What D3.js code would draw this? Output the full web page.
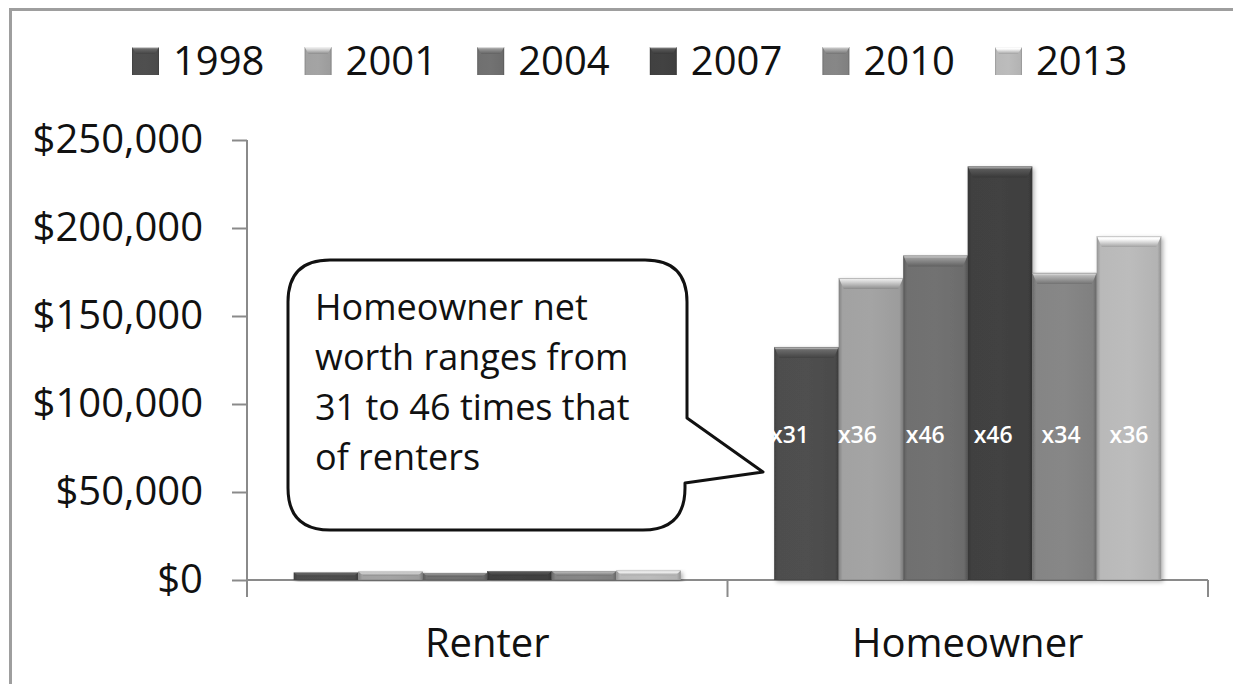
<!DOCTYPE html>
<html>
<head>
<meta charset="utf-8">
<script src="https://cdn.jsdelivr.net/npm/d3@7"></script>
<style>
  html, body { margin: 0; padding: 0; background: #fff; }
  svg { display: block; font-family: "Open Sans", sans-serif; }
</style>
</head>
<body>
<svg id="chart" width="1233" height="684"></svg>
<script>
// ---- data ----
const categories = ["Renter", "Homeowner"];
const years = ["1998", "2001", "2004", "2007", "2010", "2013"];
const renterValues = [4300, 4800, 4000, 5100, 5100, 5400];
const homeownerValues = [132400, 171600, 184400, 235000, 174500, 195400];
const ratioLabels = ["x31", "x36", "x46", "x46", "x34", "x36"];
const yTickValues = [0, 50000, 100000, 150000, 200000, 250000];
const yearColors = ["#4b4b4b", "#9c9c9c", "#6c6c6c", "#3f3f3f", "#808080", "#b3b3b3"];
const calloutLines = ["Homeowner net", "worth ranges from", "31 to 46 times that", "of renters"];

const seriesByCategory = { "Renter": renterValues, "Homeowner": homeownerValues };

const svg = d3.select("#chart");
const W = 1233, H = 684;

// frame
svg.append("path")
  .attr("d", `M10.5,${H + 5} L10.5,9.5 L${W + 5},9.5`)
  .attr("fill", "none").attr("stroke", "#9e9e9e").attr("stroke-width", 3);

// scales
const plot = { left: 247, right: 1208, top: 140, bottom: 580 };
const pInner = 0.1946;
const x0 = d3.scaleBand().domain(categories).range([plot.left, plot.right])
  .paddingInner(pInner).paddingOuter(pInner / 2);
const x1 = d3.scaleBand().domain(years).range([0, x0.bandwidth()]).padding(0);
const y = d3.scaleLinear().domain([0, 250000]).range([plot.bottom, plot.top]);

// defs: gradients
const defs = svg.append("defs");
yearColors.forEach((c, i) => {
  const base = d3.color(c);
  const g = defs.append("linearGradient").attr("id", "hg" + i)
    .attr("x1", "0%").attr("x2", "100%").attr("y1", "0%").attr("y2", "0%");
  g.append("stop").attr("offset", "0%").attr("stop-color", base.darker(0.5));
  g.append("stop").attr("offset", "6%").attr("stop-color", base.brighter(0.1));
  g.append("stop").attr("offset", "50%").attr("stop-color", base.brighter(0.14));
  g.append("stop").attr("offset", "94%").attr("stop-color", base);
  g.append("stop").attr("offset", "100%").attr("stop-color", base.darker(0.6));
  const t = defs.append("linearGradient").attr("id", "tg" + i)
    .attr("x1", "0%").attr("x2", "0%").attr("y1", "0%").attr("y2", "100%");
  t.append("stop").attr("offset", "0%").attr("stop-color", "#f4f4f4");
  t.append("stop").attr("offset", "25%").attr("stop-color", base.brighter(1.0));
  t.append("stop").attr("offset", "100%").attr("stop-color", base.darker(0.3));
});
const f = defs.append("filter").attr("id", "sh").attr("x", "-10%").attr("y", "-10%")
  .attr("width", "130%").attr("height", "130%");
f.append("feDropShadow").attr("dx", 2).attr("dy", 2).attr("stdDeviation", 2)
  .attr("flood-color", "#000").attr("flood-opacity", 0.3);

// axes
const axisColor = "#8a8a8a";
const yAxis = svg.append("g").attr("transform", `translate(${plot.left},0)`)
  .call(d3.axisLeft(y).tickValues(yTickValues)
    .tickFormat(d => "$" + d3.format(",")(d)).tickSize(15).tickPadding(29));
yAxis.select(".domain").attr("stroke", axisColor).attr("stroke-width", 2)
  .attr("d", `M0,${plot.top}V${plot.bottom}`);
yAxis.selectAll(".tick line").attr("stroke", axisColor).attr("stroke-width", 2);
yAxis.selectAll(".tick text").attr("font-size", 40).attr("fill", "#111")
  .attr("font-family", "Open Sans");

const xg = svg.append("g").attr("transform", `translate(0,${plot.bottom})`);
xg.append("line").attr("x1", plot.left).attr("x2", plot.right)
  .attr("stroke", axisColor).attr("stroke-width", 2);
const boundaries = categories.map(c => x0(c) - x0.step() * pInner / 2).concat([plot.right]);
xg.selectAll("line.b").data(boundaries).join("line").attr("class", "b")
  .attr("x1", d => d).attr("x2", d => d).attr("y1", 0).attr("y2", 17)
  .attr("stroke", axisColor).attr("stroke-width", 2);
svg.append("g").selectAll("text").data(categories).join("text")
  .attr("x", d => x0(d) + x0.bandwidth() / 2).attr("y", 657)
  .attr("text-anchor", "middle").attr("font-size", 40).attr("fill", "#111")
  .text(d => d);

// bars
const barData = [];
categories.forEach(cat => {
  seriesByCategory[cat].forEach((v, i) => barData.push({ cat, year: years[i], i, v }));
});
const bars = svg.append("g").selectAll("g").data(barData).join("g")
  .attr("transform", d => `translate(${x0(d.cat) + x1(d.year)},0)`);
const bw = x1.bandwidth();
bars.append("rect")
  .attr("x", 0).attr("width", bw)
  .attr("y", d => y(d.v)).attr("height", d => y(0) - y(d.v))
  .attr("fill", d => `url(#hg${d.i})`).attr("filter", "url(#sh)");
bars.append("path")
  .attr("d", d => {
    const top = y(d.v), h = y(0) - top, b = Math.min(11, h / 2), s = Math.min(5, bw / 4);
    return `M0,${top} L${bw},${top} L${bw - s},${top + b} L${s},${top + b} Z`;
  })
  .attr("fill", d => `url(#tg${d.i})`);
bars.append("rect")
  .attr("x", 0.5).attr("width", bw - 1)
  .attr("y", d => y(d.v) + 0.5).attr("height", d => Math.max(0, y(0) - y(d.v) - 1))
  .attr("fill", "none").attr("stroke", d => d3.color(yearColors[d.i]).darker(0.4))
  .attr("stroke-opacity", 0.5);

// ratio labels on homeowner bars
const hx = x0("Homeowner");
const labelX = d3.scaleLinear().domain([0, years.length - 1])
  .range([hx + x1(years[0]) + bw / 2 - 17, hx + x1(years[years.length - 1]) + bw / 2]);
svg.append("g").selectAll("text").data(ratioLabels).join("text")
  .attr("x", (d, i) => labelX(i)).attr("y", 443)
  .attr("text-anchor", "middle").attr("font-size", 23).attr("fill", "#fff")
  .attr("font-weight", 600)
  .text(d => d);

// legend
const legend = svg.append("g");
const legItems = legend.selectAll("g").data(years).join("g")
  .attr("transform", (d, i) => `translate(${132 + i * 172.6},0)`);
legItems.append("rect").attr("x", 0).attr("y", 47).attr("width", 27).attr("height", 28)
  .attr("fill", (d, i) => `url(#hg${i})`);
legItems.append("path")
  .attr("d", "M0,47 L27,47 L23,54 L4,54 Z")
  .attr("fill", (d, i) => `url(#tg${i})`);
legItems.append("text").attr("x", 41).attr("y", 75)
  .attr("font-size", 40).attr("fill", "#111").text(d => d);

// callout
const cx0 = 288, cx1 = 687, cy0 = 260, cy1 = 530, r = 42;
const tip = [763, 472];
const calloutPath = [
  `M${cx0 + r},${cy0}`,
  `L${cx1 - r},${cy0}`,
  `Q${cx1},${cy0} ${cx1},${cy0 + r}`,
  `L${cx1},418`,
  `L${tip[0]},${tip[1]}`,
  `L${cx1 - 2},483`,
  `L${cx1 - 2},${cy1 - r}`,
  `Q${cx1 - 2},${cy1} ${cx1 - 2 - r},${cy1}`,
  `L${cx0 + r},${cy1}`,
  `Q${cx0},${cy1} ${cx0},${cy1 - r}`,
  `L${cx0},${cy0 + r}`,
  `Q${cx0},${cy0} ${cx0 + r},${cy0}`,
  "Z"
].join(" ");
svg.append("path").attr("d", calloutPath)
  .attr("fill", "#fff").attr("stroke", "#111").attr("stroke-width", 3)
  .attr("stroke-linejoin", "round");
svg.append("g").selectAll("text").data(calloutLines).join("text")
  .attr("x", 315).attr("y", (d, i) => 320 + i * 50)
  .attr("font-size", 36).attr("fill", "#111").text(d => d);
</script>
</body>
</html>
